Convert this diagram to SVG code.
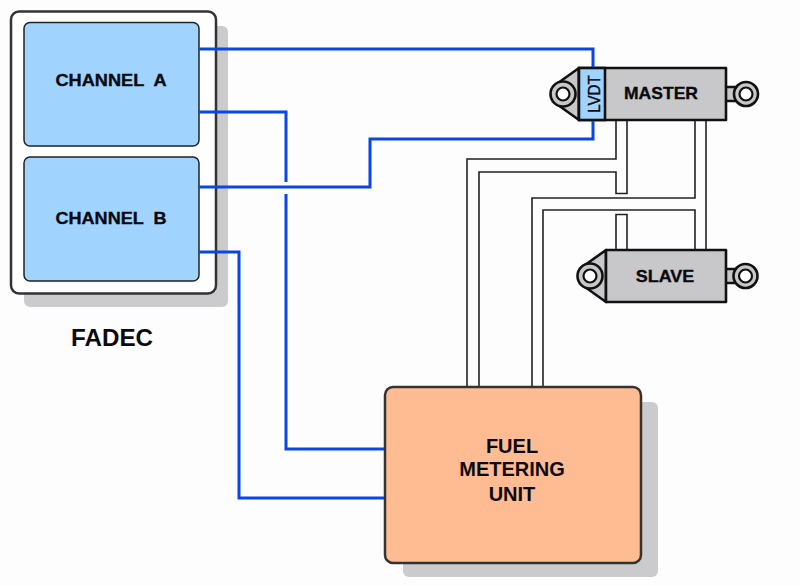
<svg xmlns="http://www.w3.org/2000/svg" width="800" height="586" viewBox="0 0 800 586">
<style>
text{font-family:"Liberation Sans",Arial,sans-serif;font-weight:700;fill:#0a0a0f;text-anchor:middle;white-space:pre}
.lab{stroke:#0a0a0f;stroke-width:.35}
.sh{fill:#cbcbcd}
.box{stroke:#333;stroke-width:2.5}
.ch{fill:#a0d4ff;stroke:#222;stroke-width:1.5}
.blue{fill:none;stroke:#0a46e6;stroke-width:3}
.pipe{fill:none;stroke:#222;stroke-width:1.6}
.body{fill:#c8c8ca;stroke:#111;stroke-width:2.6;stroke-linejoin:round}
.eye{fill:#c8c8ca;stroke:#111;stroke-width:2.6}
.hole{fill:#fff;stroke:#111;stroke-width:2.2}
</style>
<rect width="800" height="586" fill="#fdfdfe"/>
<g id="fadec">
<rect class="sh" x="24" y="26" width="204" height="281" rx="6"/>
<rect class="box" x="11" y="11.500" width="205" height="282" rx="8" fill="#fff"/>
<text x="112" y="346" font-size="24.500" textLength="82" lengthAdjust="spacingAndGlyphs">FADEC</text>
</g>
<g id="channel-a">
<rect class="ch" x="24" y="22.500" width="175" height="123.500" rx="6"/>
<text class="lab" x="111" y="86" font-size="16.500" textLength="111" lengthAdjust="spacingAndGlyphs">CHANNEL  A</text>
</g>
<g id="channel-b">
<rect class="ch" x="24" y="157" width="175" height="124" rx="6"/>
<text class="lab" x="111" y="224" font-size="16.500" textLength="111" lengthAdjust="spacingAndGlyphs">CHANNEL  B</text>
</g>
<g id="master">
<path class="body" d="M579 68L558 83L558 105L579 120Z"/>
<circle class="eye" cx="563" cy="94" r="12.500"/>
<circle class="hole" cx="563" cy="94" r="6.500"/>
<rect class="body" x="725.500" y="87" width="12" height="14"/>
<circle class="eye" cx="746" cy="94" r="12"/>
<circle class="hole" cx="746" cy="94" r="6.500"/>
<rect class="body" x="579" y="68" width="147" height="52"/>
<rect x="579" y="68" width="26" height="52" fill="#a0d4ff" stroke="#111" stroke-width="2.600"/>
<text class="lab" x="661" y="99" font-size="16.300" textLength="74" lengthAdjust="spacingAndGlyphs">MASTER</text>
<text transform="translate(599.500 94) rotate(-90)" font-size="16" style="font-weight:400" stroke="#0a0a0f" stroke-width=".4" textLength="37.500" lengthAdjust="spacingAndGlyphs">LVDT</text>
</g>
<g id="slave">
<path class="body" d="M606 250L585 265L585 287L606 302Z"/>
<circle class="eye" cx="590" cy="276" r="12.500"/>
<circle class="hole" cx="590" cy="276" r="6.500"/>
<rect class="body" x="725.500" y="269" width="12" height="14"/>
<circle class="eye" cx="745.500" cy="276" r="12"/>
<circle class="hole" cx="745.500" cy="276" r="6.500"/>
<rect class="body" x="606" y="250" width="120" height="52"/>
<text class="lab" x="665" y="281.500" font-size="16.300" textLength="58.500" lengthAdjust="spacingAndGlyphs">SLAVE</text>
</g>
<g id="fuel-metering-unit">
<rect class="sh" x="403" y="402" width="255" height="175" rx="6"/>
<rect class="box" x="385" y="387" width="256" height="176" rx="8" fill="#ffbb92"/>
<text x="512" y="452.700" font-size="20">FUEL</text>
<text x="512" y="476" font-size="20">METERING</text>
<text x="512" y="500.700" font-size="20">UNIT</text>
</g>
<g id="connectors">
<path class="blue" d="M199 49H593V67M199 112H286V182M286 194V449H384M199 187H370V139H593V121M199 252H239V498H384"/>
<path class="pipe" d="M467 386V159H616V121M479 386V172H616V193.500H627V121M532 386V198H695V121M543 386V210H695V249M706 121V249M616 249V214.500H627V249"/>
</g>
</svg>
